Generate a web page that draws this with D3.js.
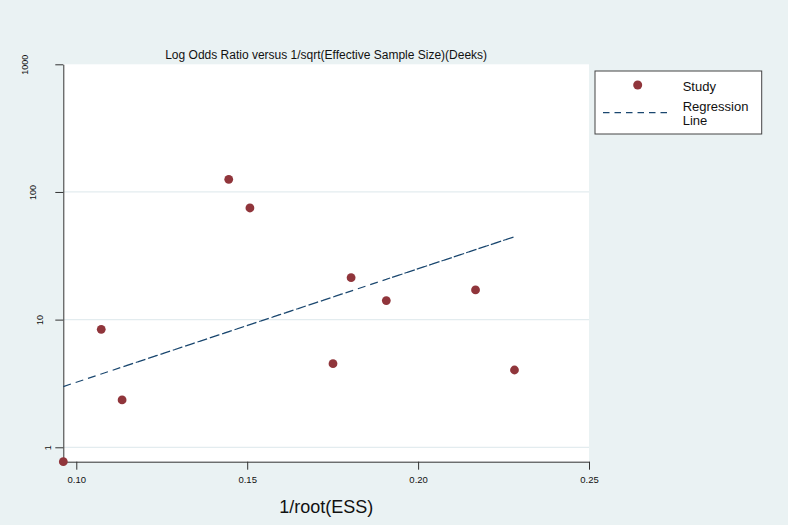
<!DOCTYPE html>
<html lang="en">
<head>
<script src="https://d3js.org/d3.v7.min.js"></script>
</head>
<style>
body { margin: 0; background: #eaf2f3; }
#chart text { font-family: "Liberation Sans", Arial, sans-serif; fill: #111; }
</style>
<body>
<div id="chart"></div>
<script>
// studies, in the order they sit in the dataset
var studyX = [0.0962, 0.1073, 0.1446, 0.1508, 0.1751, 0.1804, 0.1134, 0.2168, 0.2282, 0.1907];
var studyY = [0.771, 8.40, 125.7, 74.9, 4.52, 21.3, 2.35, 17.1, 4.03, 14.1];
// fitted regression values at each study
var fitY = [2.99, 3.75, 8.05, 9.14, 15.04, 16.76, 4.25, 35.3, 44.6, 20.7];

var xTicks = [0.10, 0.15, 0.20, 0.25];
var yTicks = [1, 10, 100, 1000];
var legendLabels = ["Study", ["Regression", "Line"]];

var W = 788, H = 525;
var margin = { top: 64.3, right: 199, bottom: 63.3, left: 63.3 },
    width = W - margin.left - margin.right,
    height = H - margin.top - margin.bottom;

var svg = d3.select("#chart")
    .append("svg")
    .attr("width", W)
    .attr("height", H);

svg.append("rect").attr("width", W).attr("height", H).attr("fill", "#eaf2f3");

var g = svg.append("g")
    .attr("transform", "translate(" + margin.left + "," + margin.top + ")");

g.append("rect").attr("width", width).attr("height", height).attr("fill", "#fff");

var x = d3.scaleLinear().domain([0.0962, 0.25]).range([0, width]);
var y = d3.scaleLog().domain([0.771, 1000]).range([height, 0]);

// gridlines
g.selectAll(".grid")
    .data(yTicks.slice(0, 3))
    .enter().append("line")
    .attr("x1", 0).attr("x2", width)
    .attr("y1", function(d) { return y(d); })
    .attr("y2", function(d) { return y(d); })
    .attr("stroke", "#e3ecef")
    .attr("stroke-width", 1.2);

// x axis
var xAxis = g.append("g")
    .attr("transform", "translate(0," + height + ")")
    .call(d3.axisBottom(x).tickValues(xTicks).tickFormat(d3.format(".2f")).tickSize(8).tickSizeOuter(0));
xAxis.select(".domain").attr("stroke", "#333");
xAxis.selectAll(".tick line").attr("stroke", "#333");
xAxis.selectAll("text").attr("font-size", "9.5px").attr("dy", "1.1em").attr("fill", "#111");

// y axis, labels turned vertical
var yAxis = g.append("g")
    .call(d3.axisLeft(y).tickValues(yTicks).tickFormat(function(d) { return d; }).tickSize(8).tickSizeOuter(0));
yAxis.select(".domain").attr("stroke", "#333");
yAxis.selectAll(".tick line").attr("stroke", "#333");
yAxis.selectAll("text")
    .attr("font-size", "9px")
    .attr("fill", "#111")
    .attr("text-anchor", "middle")
    .attr("x", null).attr("dy", null)
    .attr("transform", function(d) {
        var cx = -8 - 7.6 * String(d).length;
        return "translate(" + (cx + 3) + ",0)rotate(-90)";
    });

// regression line (drawn through the studies in data order)
var line = d3.line()
    .x(function(d, i) { return x(studyX[i]); })
    .y(function(d) { return y(d); });

g.append("path")
    .datum(fitY)
    .attr("d", line)
    .attr("fill", "none")
    .attr("stroke", "#1a476f")
    .attr("stroke-width", 1.2)
    .attr("stroke-dasharray", "8,5");

// studies
g.selectAll(".dot")
    .data(studyY)
    .enter().append("circle")
    .attr("cx", function(d, i) { return x(studyX[i]); })
    .attr("cy", function(d) { return y(d); })
    .attr("r", 4.4)
    .attr("fill", "#90353b");

// title
svg.append("text")
    .attr("x", margin.left + width / 2)
    .attr("y", 59)
    .attr("text-anchor", "middle")
    .attr("font-size", "12px")
    .text("Log Odds Ratio versus 1/sqrt(Effective Sample Size)(Deeks)");

// x title
svg.append("text")
    .attr("x", margin.left + width / 2)
    .attr("y", 513)
    .attr("text-anchor", "middle")
    .attr("font-size", "18px")
    .text("1/root(ESS)");

// legend
var legend = svg.append("g").attr("transform", "translate(595,71)");
legend.append("rect")
    .attr("width", 166.7).attr("height", 63)
    .attr("fill", "#fff")
    .attr("stroke", "#444")
    .attr("stroke-width", 1);
legend.append("circle")
    .attr("cx", 42.7).attr("cy", 14).attr("r", 4.5)
    .attr("fill", "#90353b");
legend.append("text")
    .attr("x", 87.7).attr("y", 20)
    .attr("font-size", "13px")
    .text(legendLabels[0]);
legend.append("line")
    .attr("x1", 8).attr("x2", 76)
    .attr("y1", 41.7).attr("y2", 41.7)
    .attr("stroke", "#1a476f")
    .attr("stroke-width", 1.2)
    .attr("stroke-dasharray", "6.5,5");
legend.append("text")
    .attr("x", 87.7).attr("y", 40)
    .attr("font-size", "13px")
    .selectAll("tspan")
    .data(legendLabels[1])
    .enter().append("tspan")
    .attr("x", 87.7)
    .attr("dy", function(d, i) { return i === 0 ? 0 : "1.1em"; })
    .text(function(d) { return d; });
</script>
</body>
</html>
